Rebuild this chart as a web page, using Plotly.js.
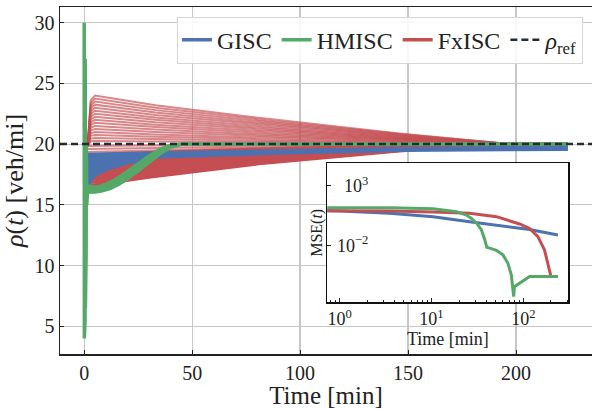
<!DOCTYPE html>
<html>
<head>
<meta charset="utf-8">
<script src="https://cdn.plot.ly/plotly-3.0.1.min.js"></script>
<style>html,body{margin:0;padding:0;background:#fff;}#chart{width:593px;height:409px;}</style>
</head>
<body>
<div id="chart"></div>
<script>
// ---------- main panel data: density rho(t) [veh/mi] ----------
const rhoRef = 20;

// FxISC upper fan (peaks above rho_ref)
const tFxUpper = [1.6, 3, 5, 33, 86, 146, 198, 224];
const fxiscUpper = [
  [19.8, 23.60, 24.00, 23.20, 22.06, 20.88, 20, 20],
  [19.8, 23.38, 23.75, 23.00, 21.93, 20.83, 20, 20],
  [19.8, 23.15, 23.50, 22.80, 21.80, 20.77, 20, 20],
  [19.8, 22.93, 23.25, 22.60, 21.67, 20.72, 20, 20],
  [19.8, 22.70, 23.00, 22.40, 21.55, 20.66, 20, 20],
  [19.8, 22.48, 22.75, 22.20, 21.42, 20.61, 20, 20],
  [19.8, 22.25, 22.50, 22.00, 21.29, 20.55, 20, 20],
  [19.8, 22.03, 22.25, 21.80, 21.16, 20.50, 20, 20],
  [19.8, 21.80, 22.00, 21.60, 21.03, 20.44, 20, 20],
  [19.8, 21.58, 21.75, 21.40, 20.90, 20.39, 20, 20],
  [19.8, 21.35, 21.50, 21.20, 20.77, 20.33, 20, 20],
  [19.8, 21.13, 21.25, 21.00, 20.64, 20.28, 20, 20],
  [19.8, 20.90, 21.00, 20.80, 20.52, 20.22, 20, 20],
  [19.8, 20.68, 20.75, 20.60, 20.39, 20.17, 20, 20],
  [19.8, 20.45, 20.50, 20.40, 20.26, 20.11, 20, 20],
  [19.8, 20.23, 20.25, 20.20, 20.13, 20.06, 20, 20]
];

// FxISC lower set (start below rho_ref)
const tFxLower = [1.6, 5, 30, 81, 146, 175, 224];
const fxiscLower = [
  [19.85, 19.85, 19.88, 19.93, 19.98, 19.99, 20],
  [19.60, 19.61, 19.68, 19.81, 19.94, 19.98, 20],
  [19.35, 19.36, 19.48, 19.69, 19.89, 19.97, 20],
  [19.10, 19.11, 19.29, 19.58, 19.85, 19.96, 20],
  [18.85, 18.87, 19.09, 19.46, 19.81, 19.95, 20],
  [18.60, 18.62, 18.89, 19.34, 19.77, 19.94, 20],
  [18.35, 18.37, 18.69, 19.22, 19.73, 19.93, 20],
  [18.10, 18.13, 18.49, 19.11, 19.69, 19.92, 20],
  [17.85, 17.88, 18.29, 18.99, 19.65, 19.91, 20],
  [17.60, 17.64, 18.09, 18.87, 19.61, 19.89, 20],
  [17.35, 17.39, 17.90, 18.75, 19.57, 19.88, 20],
  [17.10, 17.14, 17.70, 18.64, 19.53, 19.87, 20],
  [16.85, 16.90, 17.50, 18.52, 19.49, 19.86, 20],
  [16.60, 16.65, 17.30, 18.40, 19.45, 19.85, 20]
];

// GISC set (bottom line first, top line last)
const tGisc = [1.7, 3, 5, 10, 20, 33, 86, 146, 224];
const gisc = [
  [16.60, 17.00, 17.45, 17.90, 18.45, 18.95, 19.25, 19.50, 19.58],
  [17.10, 17.45, 17.80, 18.20, 18.65, 19.05, 19.30, 19.53, 19.62],
  [17.60, 17.90, 18.15, 18.50, 18.85, 19.12, 19.35, 19.57, 19.67],
  [18.10, 18.35, 18.55, 18.80, 19.00, 19.20, 19.40, 19.61, 19.72],
  [18.65, 18.80, 18.90, 19.05, 19.15, 19.28, 19.45, 19.65, 19.76],
  [19.20, 19.20, 19.22, 19.25, 19.30, 19.35, 19.50, 19.68, 19.80]
];

// HMISC: main run (with the initial oscillation) and the band of neighbouring runs
const tHmisc = [0, 0.08, 0.16, 0.24, 0.32, 0.4, 0.48, 0.56, 0.64, 0.72, 0.8, 0.9, 1.0, 1.2, 1.6, 3, 5, 8, 12, 16, 20, 25, 30, 35, 40, 45, 224];
const hmiscMain = [30, 4.0, 29, 4.5, 28, 5.5, 27, 6.5, 25, 8, 23, 11, 20, 15, 16.3, 16.25, 16.25, 16.35, 16.6, 17.0, 17.45, 18.1, 18.75, 19.4, 19.85, 20.0, 20.0];
const tHmiscBand = [1.6, 3, 5, 8, 12, 16, 20, 25, 30, 35, 40, 45, 224];
const hmiscLow  = [16.0, 16.0, 16.02, 16.1, 16.3, 16.65, 17.1, 17.75, 18.45, 19.15, 19.7, 19.95, 20.0];
const hmiscHigh = [16.6, 16.55, 16.5, 16.6, 16.9, 17.3, 17.8, 18.45, 19.05, 19.6, 19.95, 20.0, 20.0];

// ---------- inset data: MSE(t) ----------
const tMseGisc = [0.72, 1, 3.5, 10.4, 26, 65, 117, 238];
const mseGisc  = [8.5, 7.9, 5.1, 2.7, 1.02, 0.45, 0.23, 0.079];
const tMseFx = [0.72, 1, 3.5, 10.4, 26, 51, 65, 91, 117, 144, 170, 193, 200, 238];
const mseFx  = [8.3, 8.3, 7.9, 6.6, 5.1, 2.7, 1.41, 0.66, 0.28, 0.058, 0.0044, 9.3e-5, 2.6e-5, 2.6e-5];
const tMseHm = [0.72, 1, 3.5, 10.4, 14.5, 18.7, 24, 27, 31, 35, 38, 40, 43, 51, 60, 68, 74, 77, 78.5, 80, 91, 117, 238];
const mseHm  = [15.1, 15.1, 15.1, 12.6, 9.8, 7.1, 3.7, 2.0, 0.76, 0.21, 0.032, 0.0074, 0.0063, 0.0040, 0.0017, 3.4e-4, 3.5e-5, 2.0e-6, 5.5e-7, 3.7e-6, 7.1e-6, 2.6e-5, 2.6e-5];

// ---------- axis settings ----------
const xRange = [-11.2, 235.2];
const yRange = [2.72, 31.29];
const xTicks = [0, 50, 100, 150, 200];
const yTicks = [5, 10, 15, 20, 25, 30];
const insetXRange = [-0.135, 2.49];
const insetYRange = [-6.74, 4.9];
const insetXTicks = [1, 10, 100];
const insetXTickText = ['10<sup>0</sup>', '10<sup>1</sup>', '10<sup>2</sup>'];
const insetYTicks = [1e3, 1e-2];
const insetYTickText = ['10<sup>3</sup>', '10<sup>−2</sup>'];

const BLUE = '#4c72b0', GREEN = '#55a868', RED = '#c44e52';
const RED_LIGHT = 'rgba(196,78,82,0.68)';
const DARK = '#262c33';
const SERIF = '"Liberation Serif", "DejaVu Serif", serif';

const traces = [];
// FxISC
fxiscUpper.forEach(function (ys) {
  traces.push({x: tFxUpper, y: ys, type: 'scatter', mode: 'lines',
    line: {color: RED_LIGHT, width: 2}, showlegend: false, hoverinfo: 'skip', legendgroup: 'fx'});
});
fxiscLower.forEach(function (ys, i) {
  traces.push({x: tFxLower, y: ys, type: 'scatter', mode: 'lines',
    line: {color: i < 3 ? RED_LIGHT : RED, width: i < 3 ? 2 : 3.5},
    name: 'FxISC', showlegend: i === fxiscLower.length - 1, legendrank: 3, legendgroup: 'fx', hoverinfo: 'skip'});
});
// GISC
gisc.forEach(function (ys, i) {
  traces.push({x: tGisc, y: ys, type: 'scatter', mode: 'lines',
    line: {color: BLUE, width: i === 0 ? 3.5 : 2}, fill: i === 0 ? 'none' : 'tonexty', fillcolor: BLUE,
    name: 'GISC', showlegend: i === 0, legendrank: 1, legendgroup: 'gi', hoverinfo: 'skip'});
});
// HMISC
traces.push({x: tHmiscBand, y: hmiscLow, type: 'scatter', mode: 'lines', line: {color: GREEN, width: 2.5},
  showlegend: false, legendgroup: 'hm', hoverinfo: 'skip'});
traces.push({x: tHmiscBand, y: hmiscHigh, type: 'scatter', mode: 'lines', line: {color: GREEN, width: 2.5},
  fill: 'tonexty', fillcolor: GREEN, showlegend: false, legendgroup: 'hm', hoverinfo: 'skip'});
traces.push({x: tHmisc, y: hmiscMain, type: 'scatter', mode: 'lines', line: {color: GREEN, width: 3.5},
  name: 'HMISC', legendrank: 2, legendgroup: 'hm', hoverinfo: 'skip'});
// reference line
traces.push({x: xRange, y: [rhoRef, rhoRef], type: 'scatter', mode: 'lines',
  line: {color: DARK, width: 2.5, dash: '7px,4px'}, name: '<i>ρ</i><sub>ref</sub>', legendrank: 4, hoverinfo: 'skip'});

// inset
traces.push({x: tMseGisc, y: mseGisc, xaxis: 'x2', yaxis: 'y2', type: 'scatter', mode: 'lines',
  line: {color: BLUE, width: 3}, showlegend: false, hoverinfo: 'skip'});
traces.push({x: tMseFx, y: mseFx, xaxis: 'x2', yaxis: 'y2', type: 'scatter', mode: 'lines',
  line: {color: RED, width: 3}, showlegend: false, hoverinfo: 'skip'});
traces.push({x: tMseHm, y: mseHm, xaxis: 'x2', yaxis: 'y2', type: 'scatter', mode: 'lines',
  line: {color: GREEN, width: 3}, showlegend: false, hoverinfo: 'skip'});

const layout = {
  width: 593, height: 409,
  margin: {l: 60, r: 1, t: 7, b: 55},
  paper_bgcolor: '#fff', plot_bgcolor: '#fff',
  font: {family: SERIF, color: '#222'},
  showlegend: true,
  legend: {
    orientation: 'h', x: 0.983, xanchor: 'right', y: 0.972, yanchor: 'top',
    bgcolor: 'rgba(255,255,255,0.85)', bordercolor: '#d6d6d6', borderwidth: 1,
    font: {family: SERIF, size: 24, color: '#222'}
  },
  xaxis: {
    domain: [0, 1], range: xRange, tickmode: 'array', tickvals: xTicks,
    showgrid: true, gridcolor: '#c6c6c6', gridwidth: 1.2, zeroline: false,
    showline: true, linecolor: '#222', linewidth: 1.5, mirror: true,
    ticks: 'inside', ticklen: 4, tickcolor: '#222',
    tickfont: {family: SERIF, size: 20, color: '#222'},
    title: {text: 'Time [min]', font: {family: SERIF, size: 25, color: '#222'}, standoff: 2}
  },
  yaxis: {
    domain: [0, 1], range: yRange, tickmode: 'array', tickvals: yTicks,
    showgrid: true, gridcolor: '#c6c6c6', gridwidth: 1.2, zeroline: false,
    showline: true, linecolor: '#222', linewidth: 1.5,
    ticks: 'inside', ticklen: 4, tickcolor: '#222',
    tickfont: {family: SERIF, size: 20, color: '#222'},
    title: {text: '<i>ρ</i>(<i>t</i>) [veh/mi]', font: {family: SERIF, size: 26, color: '#222'}, standoff: 8}
  },
  xaxis2: {
    type: 'log', domain: [0.5024, 0.9555], anchor: 'y2', range: insetXRange,
    tickmode: 'array', tickvals: insetXTicks, ticktext: insetXTickText,
    showgrid: false, zeroline: false, showline: true, linecolor: '#111', linewidth: 1.3, mirror: true,
    ticks: 'inside', ticklen: 4, tickcolor: '#222',
    minor: {dtick: 'D1', ticks: 'inside', ticklen: 2, tickcolor: '#222', showgrid: false},
    tickfont: {family: SERIF, size: 18, color: '#222'},
    title: {text: 'Time [min]', font: {family: SERIF, size: 18, color: '#222'}, standoff: 2}
  },
  yaxis2: {
    type: 'log', domain: [0.149, 0.5496], anchor: 'x2', range: insetYRange,
    tickmode: 'array', tickvals: insetYTicks, ticktext: insetYTickText,
    showgrid: false, zeroline: false, showline: true, linecolor: '#111', linewidth: 1.3, mirror: true,
    ticks: 'inside', ticklen: 4, tickcolor: '#222',
    ticklabelstandoff: -46,
    tickfont: {family: SERIF, size: 18, color: '#222'},
    title: {text: 'MSE(<i>t</i>)', font: {family: SERIF, size: 16, color: '#222'}, standoff: 10}
  }
};

Plotly.newPlot('chart', traces, layout, {staticPlot: true, displayModeBar: false});
</script>
</body>
</html>
